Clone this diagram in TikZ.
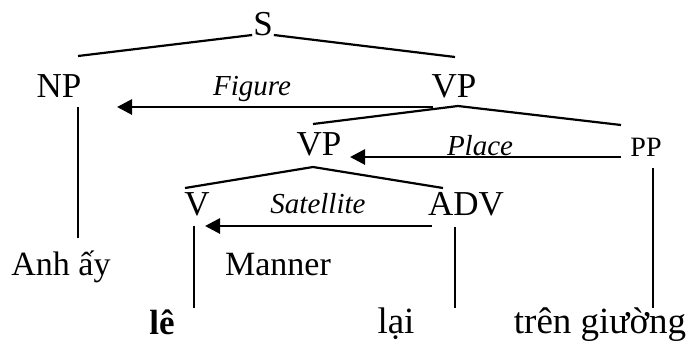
\documentclass[tikz,border=0pt]{standalone}
\usepackage{fontspec}
\setmainfont{Liberation Serif}
\usetikzlibrary{arrows.meta}

\begin{document}
\begin{tikzpicture}[x=0.5pt,y=-0.5pt,
  line width=1.1pt,
  cat/.style={anchor=base,inner sep=0pt,font=\fontsize{17.5}{20}\selectfont},
  smallcat/.style={anchor=base,inner sep=0pt,font=\fontsize{14}{17}\selectfont},
  rel/.style={anchor=base,inner sep=0pt,font=\fontsize{14.5}{17}\selectfont\itshape},
  word/.style={anchor=base,inner sep=0pt,font=\fontsize{17}{20}\selectfont},
  leaf/.style={anchor=base,inner sep=0pt,font=\fontsize{18.5}{21}\selectfont},
  link/.style={line width=1.4pt,-{Triangle[length=7.5pt,width=7.5pt]}}]
  \useasboundingbox (0,0) rectangle (689,343);

  % categories
  \node[cat] (S) at (263,35) {S};
  \node[cat] (NP) at (59,97) {NP};
  \node[cat] (VP) at (454,97) {VP};
  \node[cat] (VPlow) at (319,155) {VP};
  \node[smallcat] (PP) at (646,156) {PP};
  \node[cat] (V) at (197,215) {V};
  \node[cat] (ADV) at (466,215) {ADV};

  % words
  \node[word] (anh) at (61,275) {Anh ấy};
  \node[word] (manner) at (278,275) {Manner};
  \node[leaf,font=\fontsize{17.5}{21}\selectfont\bfseries] (le) at (162,334) {lê};
  \node[leaf] (lai) at (396,333) {lại};
  \node[leaf] (tren) at (600,333) {trên giường};

  % relations
  \node[rel] (figure) at (252,95) {Figure};
  \node[rel] (place) at (480,155) {Place};
  \node[rel] (satellite) at (318,213) {Satellite};

  % branches
  \coordinate (np-top) at (78,56);
  \coordinate (vp-top) at (455,57);
  \draw (np-top) -- (S.base west) (S.base east) -- (vp-top);
  \coordinate (vp-fork) at (458,106);
  \coordinate (vplow-top) at (313,124);
  \coordinate (pp-top) at (621,125);
  \draw (vplow-top) -- (vp-fork) -- (pp-top);
  \coordinate (vplow-fork) at (313,167);
  \coordinate (v-top) at (185,188);
  \coordinate (adv-top) at (443,188);
  \draw (v-top) -- (vplow-fork) -- (adv-top);

  % stems
  \coordinate (np-hi) at (78,107);   \coordinate (np-lo) at (78,238);
  \coordinate (v-hi) at (194,226);   \coordinate (v-lo) at (194,308);
  \coordinate (adv-hi) at (455,227); \coordinate (adv-lo) at (455,308);
  \coordinate (pp-hi) at (653,168);  \coordinate (pp-lo) at (653,308);
  \draw (np-hi) -- (np-lo);
  \draw (v-hi) -- (v-lo);
  \draw (adv-hi) -- (adv-lo);
  \draw (pp-hi) -- (pp-lo);

  % arrows
  \coordinate (fig-from) at (433,107);  \coordinate (fig-to) at (117,107);
  \coordinate (pl-from) at (621,157);   \coordinate (pl-to) at (350,157);
  \coordinate (sat-from) at (432,226);  \coordinate (sat-to) at (205,226);
  \draw[link] (fig-from) -- (fig-to);
  \draw[link] (pl-from) -- (pl-to);
  \draw[link] (sat-from) -- (sat-to);
\end{tikzpicture}
\end{document}
